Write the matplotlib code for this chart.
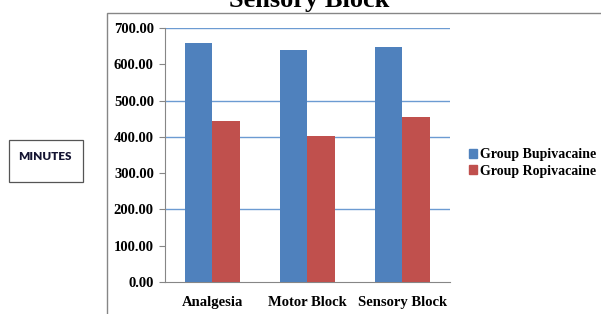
import matplotlib
matplotlib.use("Agg")
import matplotlib.pyplot as plt
import numpy as np
from matplotlib.patches import Rectangle, Patch

categories = ["Analgesia", "Motor Block", "Sensory Block"]
bupivacaine = [660, 640, 649]
ropivacaine = [444, 403, 455]
series_names = ["Group Bupivacaine", "Group Ropivacaine"]
yticks = [0, 100, 200, 300, 400, 500, 600, 700]
grid_levels = [200, 400, 500, 700]

blue = "#4F81BD"
red = "#C0504D"

plt.rcParams["font.family"] = ["Liberation Serif", "DejaVu Serif"]

fig = plt.figure(figsize=(6.01, 3.14), dpi=100)
ax = fig.add_axes([0.2745, 0.1019, 0.4742, 0.8089])

x = np.arange(len(categories))
w = 0.285
ax.bar(x - w / 2, bupivacaine, w, color=blue, label=series_names[0], zorder=3)
ax.bar(x + w / 2, ropivacaine, w, color=red, label=series_names[1], zorder=3)

for g in grid_levels:
    ax.axhline(g, color="#6C9BD2", lw=1.0, zorder=1)

ax.set_xlim(-0.5, 2.5)
ax.set_ylim(0, 700)
ax.set_yticks(yticks)
ax.set_yticklabels([f"{v:.2f}" for v in yticks], fontweight="bold", fontsize=10.5)
ax.set_xticks(x)
ax.set_xticklabels(categories, fontweight="bold", fontsize=10.5)
ax.tick_params(axis="y", length=4, width=0.8, color="#868686", pad=4)
ax.tick_params(axis="x", length=0, pad=10)

for s in ["top", "right"]:
    ax.spines[s].set_visible(False)
for s in ["left", "bottom"]:
    ax.spines[s].set_color("#868686")
    ax.spines[s].set_linewidth(0.8)

fig.text(0.514, 0.979, "Sensory Block", ha="center", va="baseline",
         fontsize=19, fontweight="bold")

# outer chart border (runs off the right and bottom edges)
fig.patches.append(Rectangle((107 / 601, -0.1), 1.0, 0.1 + (1 - 13 / 314),
                             transform=fig.transFigure, fill=False,
                             edgecolor="#868686", lw=1.0))

# MINUTES box
fig.patches.append(Rectangle((9 / 601, 1 - 182 / 314), 74 / 601, 42 / 314,
                             transform=fig.transFigure, fill=False,
                             edgecolor="#555555", lw=0.9))
fig.text(44.5 / 601, 1 - 157 / 314, "MINUTES", ha="center", va="center",
         fontsize=8.5, fontweight="heavy", family="Lato", color="#141432")

handles = [Patch(color=blue), Patch(color=red)]
fig.legend(handles, series_names, loc="center left",
           bbox_to_anchor=(469 / 601, 1 - 163 / 314), frameon=False,
           prop={"weight": "bold", "size": 10}, handlelength=0.6,
           handleheight=0.6, handletextpad=0.2, labelspacing=0.25,
           borderpad=0, borderaxespad=0)

fig.savefig("out.png", dpi=100)
